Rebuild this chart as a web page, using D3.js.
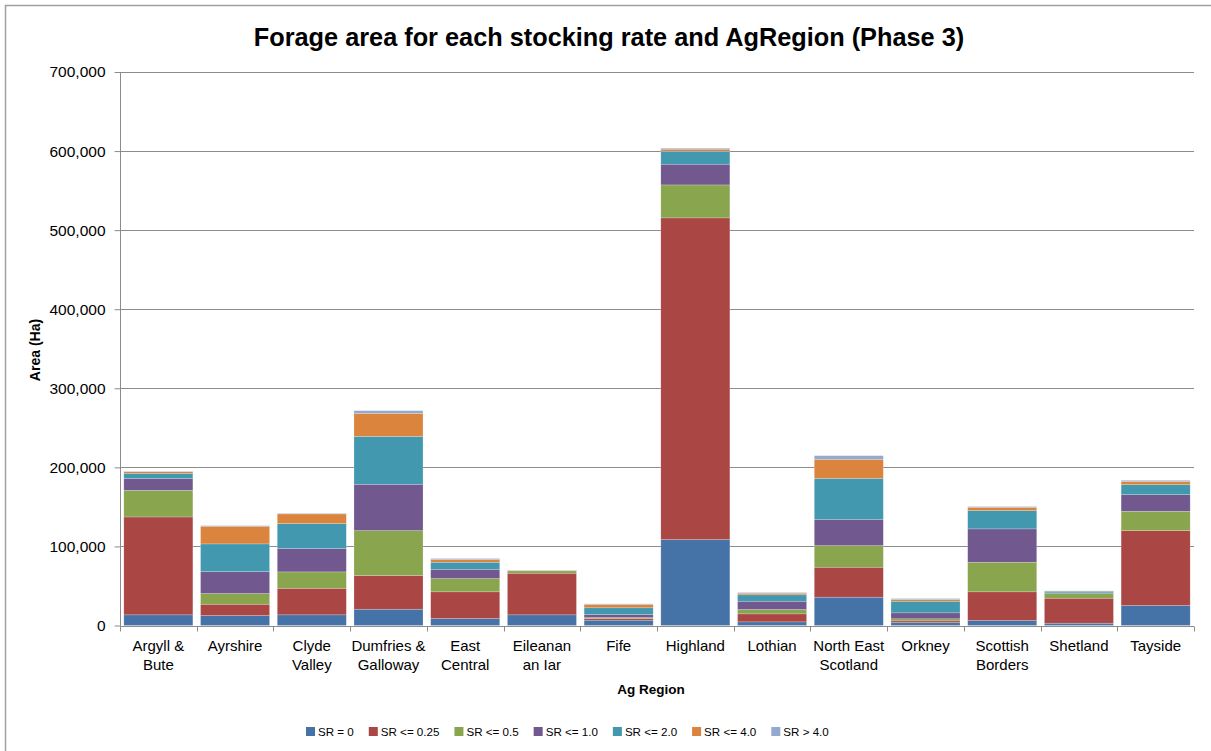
<!DOCTYPE html>
<html>
<head>
<meta charset="utf-8">
<script src="https://cdnjs.cloudflare.com/ajax/libs/d3/7.8.5/d3.min.js"></script>
<style>
  body { margin: 0; background: #fff; }
  text { font-family: "Liberation Sans", Arial, sans-serif; fill: #000; }
</style>
</head>
<body>
<script>
// chart data (hectares)
var regions = ["Argyll & Bute", "Ayrshire", "Clyde Valley", "Dumfries & Galloway", "East Central",
  "Eileanan an Iar", "Fife", "Highland", "Lothian", "North East Scotland", "Orkney",
  "Scottish Borders", "Shetland", "Tayside"];
var regionLines = [["Argyll &", "Bute"], ["Ayrshire"], ["Clyde", "Valley"], ["Dumfries &", "Galloway"],
  ["East", "Central"], ["Eileanan", "an Iar"], ["Fife"], ["Highland"], ["Lothian"],
  ["North East", "Scotland"], ["Orkney"], ["Scottish", "Borders"], ["Shetland"], ["Tayside"]];
var seriesNames = ["SR = 0", "SR <= 0.25", "SR <= 0.5", "SR <= 1.0", "SR <= 2.0", "SR <= 4.0", "SR > 4.0"];
var colors = ["#4572A7", "#AA4643", "#89A54E", "#71588F", "#4198AF", "#DB843D", "#93A9CF"];

var sr0   = [13500, 12600, 13500, 20600, 8800, 13500, 6700, 108700, 4600, 35800, 3800, 6300, 2900, 25300];
var sr025 = [123800, 14300, 33600, 42600, 33800, 52600, 2100, 406800, 10100, 37900, 2100, 36300, 31600, 94700];
var sr05  = [33700, 13500, 20700, 56800, 16800, 3000, 1200, 41700, 5500, 27300, 2600, 37400, 5900, 24400];
var sr10  = [14800, 27800, 29500, 58600, 11700, 400, 3900, 26200, 10500, 33300, 7500, 42200, 900, 21100];
var sr20  = [6700, 35000, 31600, 60600, 8900, 300, 8500, 16400, 8100, 51800, 14700, 23100, 2100, 12700];
var sr40  = [2100, 22300, 12200, 29100, 3400, 200, 4100, 2600, 2000, 24100, 2200, 4200, 300, 4100];
var sr4p  = [300, 800, 700, 3400, 1300, 100, 900, 1200, 900, 4600, 1200, 900, 100, 1300];
var yTicks = [0, 100000, 200000, 300000, 400000, 500000, 600000, 700000];

var allSeries = [sr0, sr025, sr05, sr10, sr20, sr40, sr4p];

var rows = regions.map(function (r, i) {
  var o = { region: r };
  seriesNames.forEach(function (s, j) { o[s] = allSeries[j][i]; });
  return o;
});

var W = 1211, H = 751;
var margin = { left: 120, right: 17, top: 72, bottom: 125.5 };

var svg = d3.select("body").append("svg").attr("width", W).attr("height", H);

// outer frame
svg.append("rect").attr("x", 5.5).attr("y", 5.5).attr("width", 1210).attr("height", 760)
  .attr("fill", "none").attr("stroke", "#a0a0a0").attr("stroke-width", 1.5);

var x = d3.scaleBand().domain(regions).range([margin.left, W - margin.right]).paddingInner(0.1).paddingOuter(0.05);
var y = d3.scaleLinear().domain([0, 700000]).range([H - margin.bottom, margin.top]);

// gridlines
svg.append("g").selectAll("line").data(yTicks.slice(1)).enter().append("line")
  .attr("x1", margin.left).attr("x2", W - margin.right)
  .attr("y1", function (d) { return Math.round(y(d)) + 0.5; })
  .attr("y2", function (d) { return Math.round(y(d)) + 0.5; })
  .attr("stroke", "#8c8c8c").attr("stroke-width", 1);

var stack = d3.stack().keys(seriesNames)(rows);

svg.append("g").selectAll("g").data(stack).enter().append("g")
  .attr("fill", function (d, i) { return colors[i]; })
  .selectAll("rect").data(function (d) { return d; }).enter().append("rect")
  .attr("x", function (d) { return x(d.data.region); })
  .attr("width", x.bandwidth())
  .attr("y", function (d) { return y(d[1]); })
  .attr("height", function (d) { return y(d[0]) - y(d[1]); })
  .attr("stroke", "rgba(255,255,255,0.35)").attr("stroke-width", 0.6);

// y axis
var yAxis = svg.append("g").attr("transform", "translate(" + (margin.left + 0.5) + ",0)")
  .call(d3.axisLeft(y).tickValues(yTicks).tickSize(6).tickPadding(9).tickFormat(d3.format(",")));
yAxis.select(".domain").attr("stroke", "#8c8c8c").attr("d", "M0," + y(700000) + "V" + (y(0) + 0.5));
yAxis.selectAll(".tick line").attr("stroke", "#8c8c8c");
yAxis.selectAll(".tick text").style("font-size", "15.5px").attr("fill", "#333");

// x axis
var xg = svg.append("g").attr("transform", "translate(0," + (Math.round(y(0)) + 0.5) + ")");
xg.append("line").attr("x1", margin.left).attr("x2", W - margin.right)
  .attr("stroke", "#8c8c8c");
var bounds = d3.range(regions.length + 1).map(function (i) { return margin.left + i * (W - margin.left - margin.right) / regions.length; });
xg.selectAll("line.tk").data(bounds).enter().append("line").attr("class", "tk")
  .attr("x1", function (d) { return Math.round(d) + 0.5; })
  .attr("x2", function (d) { return Math.round(d) + 0.5; })
  .attr("y1", 0).attr("y2", 5).attr("stroke", "#8c8c8c");

var labels = svg.append("g").selectAll("text").data(regions).enter().append("text")
  .attr("text-anchor", "middle")
  .attr("transform", function (d) { return "translate(" + (x(d) + x.bandwidth() / 2) + ",651)"; })
  .style("font-size", "15px").attr("fill", "#222");
labels.selectAll("tspan").data(function (d, i) { return regionLines[i]; }).enter().append("tspan")
  .attr("x", 0).attr("dy", function (d, i) { return i === 0 ? 0 : 19; })
  .text(function (d) { return d; });

// titles
svg.append("text").attr("x", 609).attr("y", 46).attr("text-anchor", "middle")
  .style("font-size", "25.3px").style("font-weight", "bold")
  .text("Forage area for each stocking rate and AgRegion (Phase 3)");

svg.append("text").attr("x", 651).attr("y", 694).attr("text-anchor", "middle")
  .style("font-size", "13.5px").style("font-weight", "bold")
  .text("Ag Region");

svg.append("text").attr("transform", "translate(40,350) rotate(-90)").attr("text-anchor", "middle")
  .style("font-size", "14px").style("font-weight", "bold")
  .text("Area (Ha)");

// legend
var legend = svg.append("g");
var lx = 0;
seriesNames.forEach(function (s, i) {
  var g = legend.append("g").attr("transform", "translate(" + lx + ",0)");
  g.append("rect").attr("x", 0).attr("y", -4).attr("width", 9).attr("height", 9).attr("fill", colors[i]);
  var t = g.append("text").attr("x", 12).attr("y", 5).style("font-size", "11.6px").attr("fill", "#222").text(s);
  lx += 12 + t.node().getComputedTextLength() + 15;
});
legend.attr("transform", "translate(306,731)");
</script>
</body>
</html>
